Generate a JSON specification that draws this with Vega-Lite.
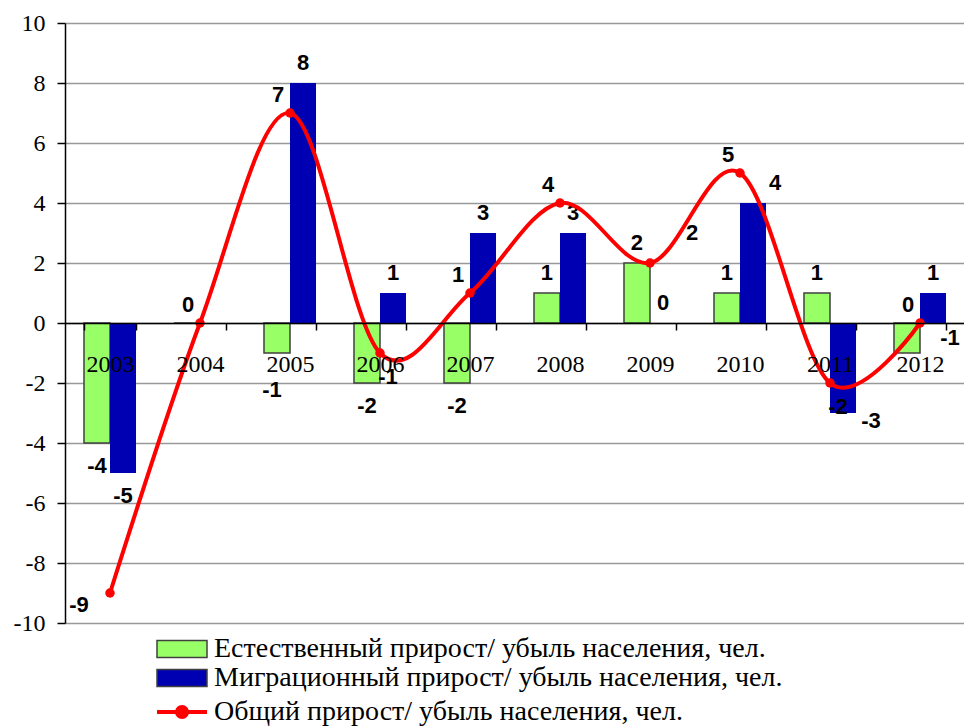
{
  "$schema": "https://vega.github.io/schema/vega-lite/v6.json",
  "autosize": {"type": "none"},
  "width": 900,
  "height": 600,
  "padding": {"left": 65, "top": 23, "right": 0, "bottom": 105},
  "background": "white",
  "config": {"view": {"stroke": null}},
  "datasets": {
    "bars": [
      {"year": "2003", "series": "Естественный прирост/ убыль населения, чел.", "value": -4},
      {"year": "2003", "series": "Миграционный прирост/ убыль населения, чел.", "value": -5},
      {"year": "2004", "series": "Естественный прирост/ убыль населения, чел.", "value": 0},
      {"year": "2004", "series": "Миграционный прирост/ убыль населения, чел.", "value": 0},
      {"year": "2005", "series": "Естественный прирост/ убыль населения, чел.", "value": -1},
      {"year": "2005", "series": "Миграционный прирост/ убыль населения, чел.", "value": 8},
      {"year": "2006", "series": "Естественный прирост/ убыль населения, чел.", "value": -2},
      {"year": "2006", "series": "Миграционный прирост/ убыль населения, чел.", "value": 1},
      {"year": "2007", "series": "Естественный прирост/ убыль населения, чел.", "value": -2},
      {"year": "2007", "series": "Миграционный прирост/ убыль населения, чел.", "value": 3},
      {"year": "2008", "series": "Естественный прирост/ убыль населения, чел.", "value": 1},
      {"year": "2008", "series": "Миграционный прирост/ убыль населения, чел.", "value": 3},
      {"year": "2009", "series": "Естественный прирост/ убыль населения, чел.", "value": 2},
      {"year": "2009", "series": "Миграционный прирост/ убыль населения, чел.", "value": 0},
      {"year": "2010", "series": "Естественный прирост/ убыль населения, чел.", "value": 1},
      {"year": "2010", "series": "Миграционный прирост/ убыль населения, чел.", "value": 4},
      {"year": "2011", "series": "Естественный прирост/ убыль населения, чел.", "value": 1},
      {"year": "2011", "series": "Миграционный прирост/ убыль населения, чел.", "value": -3},
      {"year": "2012", "series": "Естественный прирост/ убыль населения, чел.", "value": -1},
      {"year": "2012", "series": "Миграционный прирост/ убыль населения, чел.", "value": 1}
    ],
    "total": [
      {"year": "2003", "value": -9},
      {"year": "2004", "value": 0},
      {"year": "2005", "value": 7},
      {"year": "2006", "value": -1},
      {"year": "2007", "value": 1},
      {"year": "2008", "value": 4},
      {"year": "2009", "value": 2},
      {"year": "2010", "value": 5},
      {"year": "2011", "value": -2},
      {"year": "2012", "value": 0}
    ]
  },
  "encoding": {
    "x": {
      "field": "year", "type": "nominal",
      "scale": {"domain": ["2003","2004","2005","2006","2007","2008","2009","2010","2011","2012"], "paddingInner": 0.422, "paddingOuter": 0.211},
      "axis": {
        "title": null, "offset": -300, "labelAngle": 0, "zindex": 1,
        "domainColor": "#000000", "domainWidth": 1.5,
        "tickColor": "#000000", "tickWidth": 1.5, "tickSize": 7, "tickBand": "extent",
        "labelFont": "Liberation Serif, Times New Roman, serif", "labelFontSize": 24, "labelColor": "#000000", "labelPadding": 22,
        "grid": false
      }
    },
    "y": {
      "field": "value", "type": "quantitative",
      "scale": {"domain": [-10, 10], "nice": false, "zero": false},
      "axis": {
        "title": null, "values": [-10,-8,-6,-4,-2,0,2,4,6,8,10],
        "labelExpr": "'' + datum.value",
        "grid": true, "gridColor": "#999999", "gridWidth": 1.3,
        "domainColor": "#000000", "domainWidth": 1.5,
        "tickColor": "#000000", "tickWidth": 1.5, "tickSize": 8,
        "labelFont": "Liberation Serif, Times New Roman, serif", "labelFontSize": 24, "labelColor": "#000000", "labelPadding": 12
      }
    }
  },
  "layer": [
    {
      "data": {"name": "bars"},
      "mark": {"type": "bar", "strokeWidth": 1.5},
      "encoding": {
        "xOffset": {"field": "series", "type": "nominal", "scale": {"domain": ["Естественный прирост/ убыль населения, чел.", "Миграционный прирост/ убыль населения, чел."], "paddingInner": 0, "paddingOuter": 0}},
        "fill": {
          "field": "series", "type": "nominal",
          "scale": {"domain": ["Естественный прирост/ убыль населения, чел.", "Миграционный прирост/ убыль населения, чел."], "range": ["#99FF66", "#0000B3"]},
          "legend": {
            "title": null, "orient": "none", "legendX": 103, "legendY": 612, "direction": "vertical",
            "padding": 0, "symbolType": "M-2.5,-0.85H2.5V0.85H-2.5Z", "symbolSize": 400,
            "symbolStrokeWidth": 1.5, "symbolStrokeColor": "#404040",
            "labelFont": "Liberation Serif, Times New Roman, serif", "labelFontSize": 28, "labelColor": "#000000", "labelOffset": 18,
            "rowPadding": 1, "labelLimit": 900
          }
        },
        "stroke": {"condition": {"test": "datum.series === 'Естественный прирост/ убыль населения, чел.'", "value": "#404040"}, "value": null}
      }
    },
    {
      "data": {"name": "bars"},
      "transform": [{"filter": "(datum.value > 0 || (datum.value == 0 && datum.year == '2009')) && !(datum.year == '2010' && datum.value == 4)"}],
      "mark": {"type": "text", "font": "Liberation Sans", "fontWeight": "bold", "fontSize": 22, "baseline": "bottom", "dy": -8, "color": "#000000"},
      "encoding": {
        "xOffset": {"field": "series", "type": "nominal"},
        "text": {"field": "value", "type": "nominal"}
      }
    },
    {
      "data": {"name": "bars"},
      "transform": [{"filter": "datum.year == '2010' && datum.value == 4"}],
      "mark": {"type": "text", "font": "Liberation Sans", "fontWeight": "bold", "fontSize": 22, "baseline": "bottom", "dx": 22, "dy": -8, "color": "#000000"},
      "encoding": {
        "xOffset": {"field": "series", "type": "nominal"},
        "text": {"field": "value", "type": "nominal"}
      }
    },
    {
      "data": {"name": "bars"},
      "transform": [{"filter": "datum.value < -1 && datum.year != '2011'"}],
      "mark": {"type": "text", "font": "Liberation Sans", "fontWeight": "bold", "fontSize": 22, "baseline": "top", "dy": 13, "color": "#000000"},
      "encoding": {
        "xOffset": {"field": "series", "type": "nominal"},
        "text": {"field": "value", "type": "nominal"}
      }
    },
    {
      "data": {"name": "bars"},
      "transform": [{"filter": "datum.value == -1 && datum.year == '2005'"}],
      "mark": {"type": "text", "font": "Liberation Sans", "fontWeight": "bold", "fontSize": 22, "baseline": "top", "dx": -5, "dy": 27, "color": "#000000"},
      "encoding": {
        "xOffset": {"field": "series", "type": "nominal"},
        "text": {"field": "value", "type": "nominal"}
      }
    },
    {
      "data": {"name": "bars"},
      "transform": [{"filter": "datum.value < 0 && datum.year == '2012'"}],
      "mark": {"type": "text", "font": "Liberation Sans", "fontWeight": "bold", "fontSize": 22, "baseline": "middle", "dx": 43, "dy": -15, "color": "#000000"},
      "encoding": {
        "xOffset": {"field": "series", "type": "nominal"},
        "text": {"field": "value", "type": "nominal"}
      }
    },
    {
      "data": {"name": "bars"},
      "transform": [{"filter": "datum.value < 0 && datum.year == '2011'"}],
      "mark": {"type": "text", "font": "Liberation Sans", "fontWeight": "bold", "fontSize": 22, "baseline": "top", "dx": 28, "dy": -2, "color": "#000000"},
      "encoding": {
        "xOffset": {"field": "series", "type": "nominal"},
        "text": {"field": "value", "type": "nominal"}
      }
    },
    {
      "data": {"name": "total"},
      "mark": {"type": "line", "interpolate": "cardinal", "strokeWidth": 4},
      "encoding": {
        "stroke": {
          "datum": "Общий прирост/ убыль населения, чел.",
          "scale": {"range": ["#FF0000"]},
          "legend": {
            "title": null, "orient": "none", "legendX": 103, "legendY": 675,
            "padding": 0, "symbolType": "M-2.5,0H2.5M-0.5,0A0.5,0.5,0,1,0,0.5,0A0.5,0.5,0,1,0,-0.5,0Z", "symbolSize": 400,
            "symbolStrokeWidth": 4, "symbolFillColor": "#FF0000", "symbolStrokeColor": "#FF0000",
            "labelFont": "Liberation Serif, Times New Roman, serif", "labelFontSize": 28, "labelColor": "#000000", "labelOffset": 18, "labelLimit": 900
          }
        }
      }
    },
    {
      "data": {"name": "total"},
      "mark": {"type": "circle", "size": 90, "color": "#FF0000", "opacity": 1}
    },
    {
      "data": {"name": "total"},
      "transform": [{"filter": "datum.value >= 0 && datum.year != '2009'"}],
      "mark": {"type": "text", "font": "Liberation Sans", "fontWeight": "bold", "fontSize": 22, "dx": -12, "dy": -18, "color": "#000000"},
      "encoding": {"text": {"field": "value", "type": "nominal"}}
    },
    {
      "data": {"name": "total"},
      "transform": [{"filter": "datum.year == '2009'"}],
      "mark": {"type": "text", "font": "Liberation Sans", "fontWeight": "bold", "fontSize": 22, "dx": 42, "dy": -30, "color": "#000000"},
      "encoding": {"text": {"field": "value", "type": "nominal"}}
    },
    {
      "data": {"name": "total"},
      "transform": [{"filter": "datum.value < 0 && datum.year != '2003'"}],
      "mark": {"type": "text", "font": "Liberation Sans", "fontWeight": "bold", "fontSize": 22, "dx": 8, "dy": 24, "color": "#000000"},
      "encoding": {"text": {"field": "value", "type": "nominal"}}
    },
    {
      "data": {"name": "total"},
      "transform": [{"filter": "datum.year == '2003'"}],
      "mark": {"type": "text", "font": "Liberation Sans", "fontWeight": "bold", "fontSize": 22, "dx": -31, "dy": 12, "color": "#000000"},
      "encoding": {"text": {"field": "value", "type": "nominal"}}
    }
  ]
}
